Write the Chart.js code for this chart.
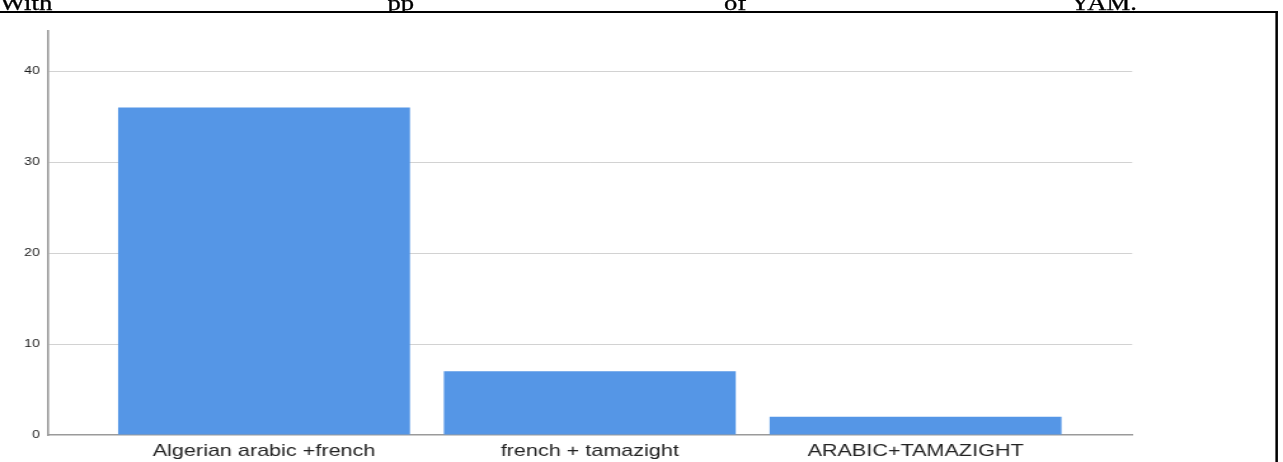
<!DOCTYPE html>
<html>
<head>
<meta charset="utf-8">
<script src="https://cdn.jsdelivr.net/npm/chart.js@4"></script>
<style>
  html, body { margin: 0; padding: 0; background: #fff; overflow: hidden; }
  #page {
    position: absolute; left: 0; top: 0; width: 1010px; height: 462px;
    transform: scaleX(1.2703); transform-origin: 0 0;
  }
  #doc {
    position: absolute; left: 0; top: 0; width: 1010px; height: 11px; overflow: hidden;
  }
  #doc span {
    position: absolute; top: -7px; font: 21px/21px "Liberation Serif", "Times New Roman", serif; color: #000;
    white-space: nowrap; -webkit-text-stroke: 0.3px #000;
  }
  #frame {
    position: absolute; left: -10px; top: 11px; width: 1014px; height: 470px;
    border-top: 2px solid #000; border-right: 2px solid #000;
  }
  #chart { position: absolute; left: 0; top: 0; }
</style>
</head>
<body>
<div id="page">
  <div id="doc">
    <span style="left:0px">With</span>
    <span style="left:305px">pp</span>
    <span style="left:570px">of</span>
    <span style="left:843px">YAM.</span>
  </div>
  <div id="frame"></div>
  <canvas id="chart" width="1010" height="462"></canvas>
</div>
<script>
// Languages used, with the number of respondents for each
const categories = ["Algerian arabic +french", "french + tamazight", "ARABIC+TAMAZIGHT"];
const counts = [36, 7, 2];
const yTicks = [0, 10, 20, 30, 40];

const sansFamily = '"Liberation Sans", Arial, Helvetica, sans-serif';

new Chart(document.getElementById('chart'), {
  type: 'bar',
  data: {
    datasets: [{
      data: categories.map((c, i) => ({ x: i, y: counts[i] })),
      backgroundColor: '#5596e6',
      borderWidth: 0,
      barPercentage: 0.896,
      categoryPercentage: 1
    }]
  },
  options: {
    responsive: false,
    animation: false,
    devicePixelRatio: 1,
    layout: { padding: { top: 31, right: 118.7, bottom: 0, left: 0 } },
    plugins: { legend: { display: false }, tooltip: { enabled: false } },
    scales: {
      x: {
        type: 'linear',
        min: -0.665,
        max: 2.665,
        offset: false,
        grid: { display: false, drawTicks: false, offset: false },
        border: { display: true, color: '#9a9a9a', width: 1.6 },
        afterBuildTicks: (scale) => { scale.ticks = categories.map((c, i) => ({ value: i })); },
        afterFit: (scale) => { scale.height = 27; },
        ticks: {
          callback: (v) => categories[v] ?? '',
          font: { family: sansFamily, size: 17 },
          color: '#222',
          padding: 6,
          maxRotation: 0,
          autoSkip: false
        }
      },
      y: {
        min: 0,
        max: 44.4,
        afterBuildTicks: (scale) => { scale.ticks = yTicks.map(v => ({ value: v })); },
        afterFit: (scale) => { scale.width = 37.3; },
        grid: {
          drawTicks: false,
          lineWidth: 1,
          color: (ctx) => (ctx.tick && ctx.tick.value === 0) ? 'rgba(0,0,0,0)' : '#d2d2d2'
        },
        border: { color: '#9a9a9a', width: 1.6 },
        ticks: {
          font: { family: sansFamily, size: 11 },
          color: '#1a1a1a',
          padding: 6
        }
      }
    }
  }
});
</script>
</body>
</html>
